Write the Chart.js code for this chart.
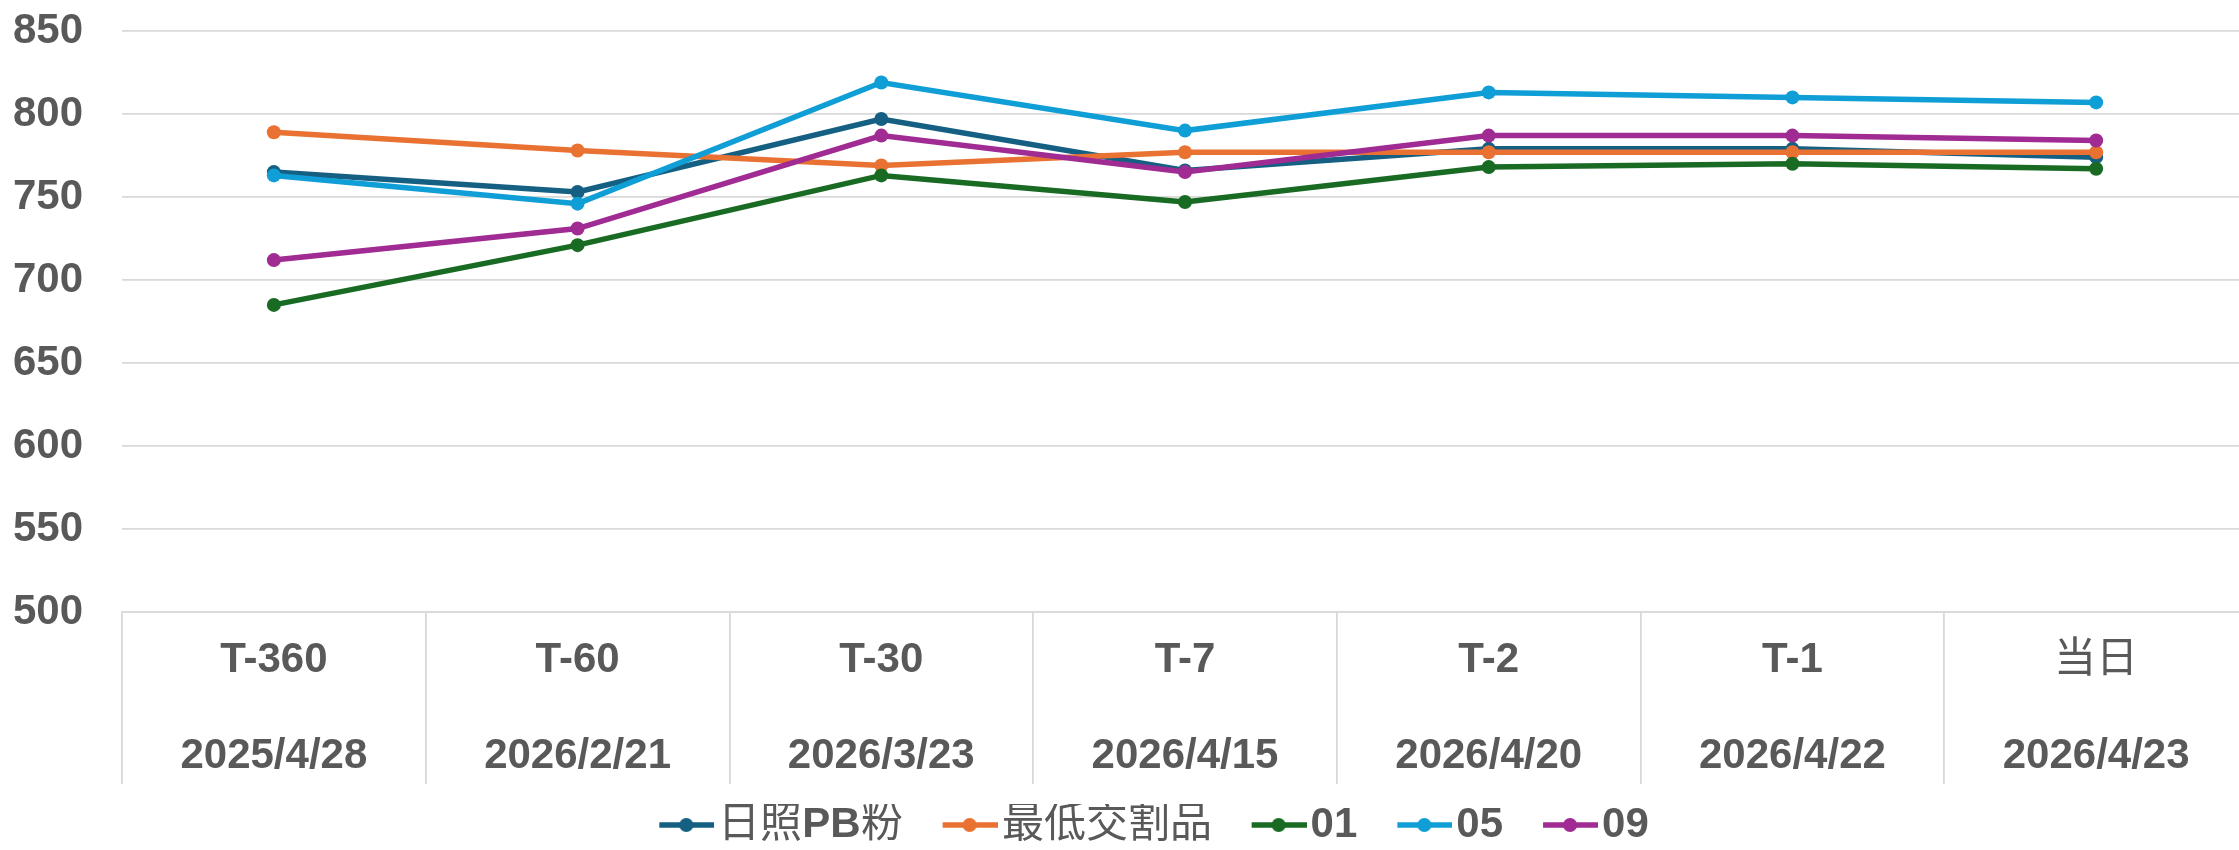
<!DOCTYPE html>
<html>
<head>
<meta charset="utf-8">
<script src="https://cdn.jsdelivr.net/npm/chart.js@4.4.1/dist/chart.umd.min.js"></script>
<style>
  @font-face {
    font-family: 'CJKReg';
    src: local('Noto Sans CJK SC'), local('Noto Sans CJK SC Regular'), local('NotoSansCJKsc-Regular');
    font-weight: 100 900;
    unicode-range: U+2E80-9FFF, U+F900-FAFF, U+FF00-FFEF;
  }
  html, body { margin: 0; padding: 0; background: #fff; overflow: hidden; }
  /* the original plot runs a few pixels past the right edge of the picture */
  #wrap { width: 2255px; height: 850px; }
</style>
</head>
<body>
<div id="wrap"><canvas id="myChart"></canvas></div>
<script>
// categories: period label + date
const periods = ['T-360', 'T-60', 'T-30', 'T-7', 'T-2', 'T-1', '当日'];
const dates = ['2025/4/28', '2026/2/21', '2026/3/23', '2026/4/15', '2026/4/20', '2026/4/22', '2026/4/23'];

// series values
const rizhaoPB = [765, 753, 797, 766, 779, 779, 774];
const lowestDeliv = [789, 778, 769, 777, 777, 777, 777];
const c01 = [685, 721, 763, 747, 768, 770, 767];
const c05 = [763, 746, 819, 790, 813, 810, 807];
const c09 = [712, 731, 787, 765, 787, 787, 784];

const seriesNames = ['日照PB粉', '最低交割品', '01', '05', '09'];
const seriesColors = ['#156082', '#E97132', '#196B24', '#0F9ED5', '#A02B93'];

// y axis
const yMin = 500, yMax = 850, yStep = 50;

const FONT = "'Liberation Sans', CJKReg, 'Noto Sans CJK SC', sans-serif";
const textColor = '#595959';
const gridColor = '#d9d9d9';

// line + dot icon for the legend; blank left half keeps the gap before the line
function legendIcon(color) {
  const c = document.createElement('canvas');
  c.width = 112; c.height = 18;
  const g = c.getContext('2d');
  g.strokeStyle = color;
  g.lineWidth = 5.5;
  g.beginPath(); g.moveTo(57, 9); g.lineTo(112, 9); g.stroke();
  g.fillStyle = color;
  g.beginPath(); g.arc(84, 9, 7, 0, Math.PI * 2); g.fill();
  return c;
}

function makeChart() {
  const ctx = document.getElementById('myChart');
  const all = [rizhaoPB, lowestDeliv, c01, c05, c09];
  new Chart(ctx, {
    type: 'line',
    data: {
      labels: periods.map((p, i) => [p, dates[i]]),
      datasets: all.map((d, i) => ({
        label: seriesNames[i],
        data: d,
        borderColor: seriesColors[i],
        backgroundColor: seriesColors[i],
        pointBackgroundColor: seriesColors[i],
        pointBorderColor: seriesColors[i],
        borderWidth: 5.5,
        pointRadius: 7,
        pointBorderWidth: 0,
        tension: 0,
        order: all.length - i
      }))
    },
    options: {
      responsive: true,
      maintainAspectRatio: false,
      animation: false,
      layout: { padding: { top: 0, left: 13, right: 0, bottom: -6 } },
      scales: {
        x: {
          offset: true,
          grid: {
            offset: true,
            drawOnChartArea: false,
            drawTicks: true,
            tickLength: 172,
            color: gridColor,
            lineWidth: 1.8
          },
          border: { display: true, color: gridColor, width: 1.8 },
          ticks: {
            padding: -172,
            color: textColor,
            maxRotation: 0,
            autoSkip: false,
            font: { family: FONT, size: 42, weight: 'bold', lineHeight: 2.286 }
          },
          afterFit: (scale) => { scale.height = 192; scale.paddingLeft = 0; scale.paddingRight = 0; }
        },
        y: {
          min: yMin,
          max: yMax,
          grid: { color: gridColor, lineWidth: 1.8, drawTicks: false },
          border: { display: false },
          ticks: {
            stepSize: yStep,
            padding: 39,
            color: textColor,
            font: { family: FONT, size: 42, weight: 'bold' }
          },
          afterFit: (scale) => { scale.width = 109; scale.paddingTop = 31; scale.paddingBottom = 0; }
        }
      },
      plugins: {
        tooltip: { enabled: false },
        legend: {
          position: 'bottom',
          labels: {
            usePointStyle: true,
            pointStyleWidth: 78,
            padding: 0,
            color: textColor,
            font: { family: FONT, size: 42, weight: 'bold' },
            sort: (a, b) => a.datasetIndex - b.datasetIndex,
            generateLabels: (chart) =>
              Chart.defaults.plugins.legend.labels.generateLabels(chart).map(l => ({
                ...l,
                pointStyle: legendIcon(seriesColors[l.datasetIndex])
              }))
          }
        }
      }
    }
  });
}

document.fonts.load("bold 42px CJKReg", "日照粉最低交割品当").then(makeChart, makeChart);
</script>
</body>
</html>
